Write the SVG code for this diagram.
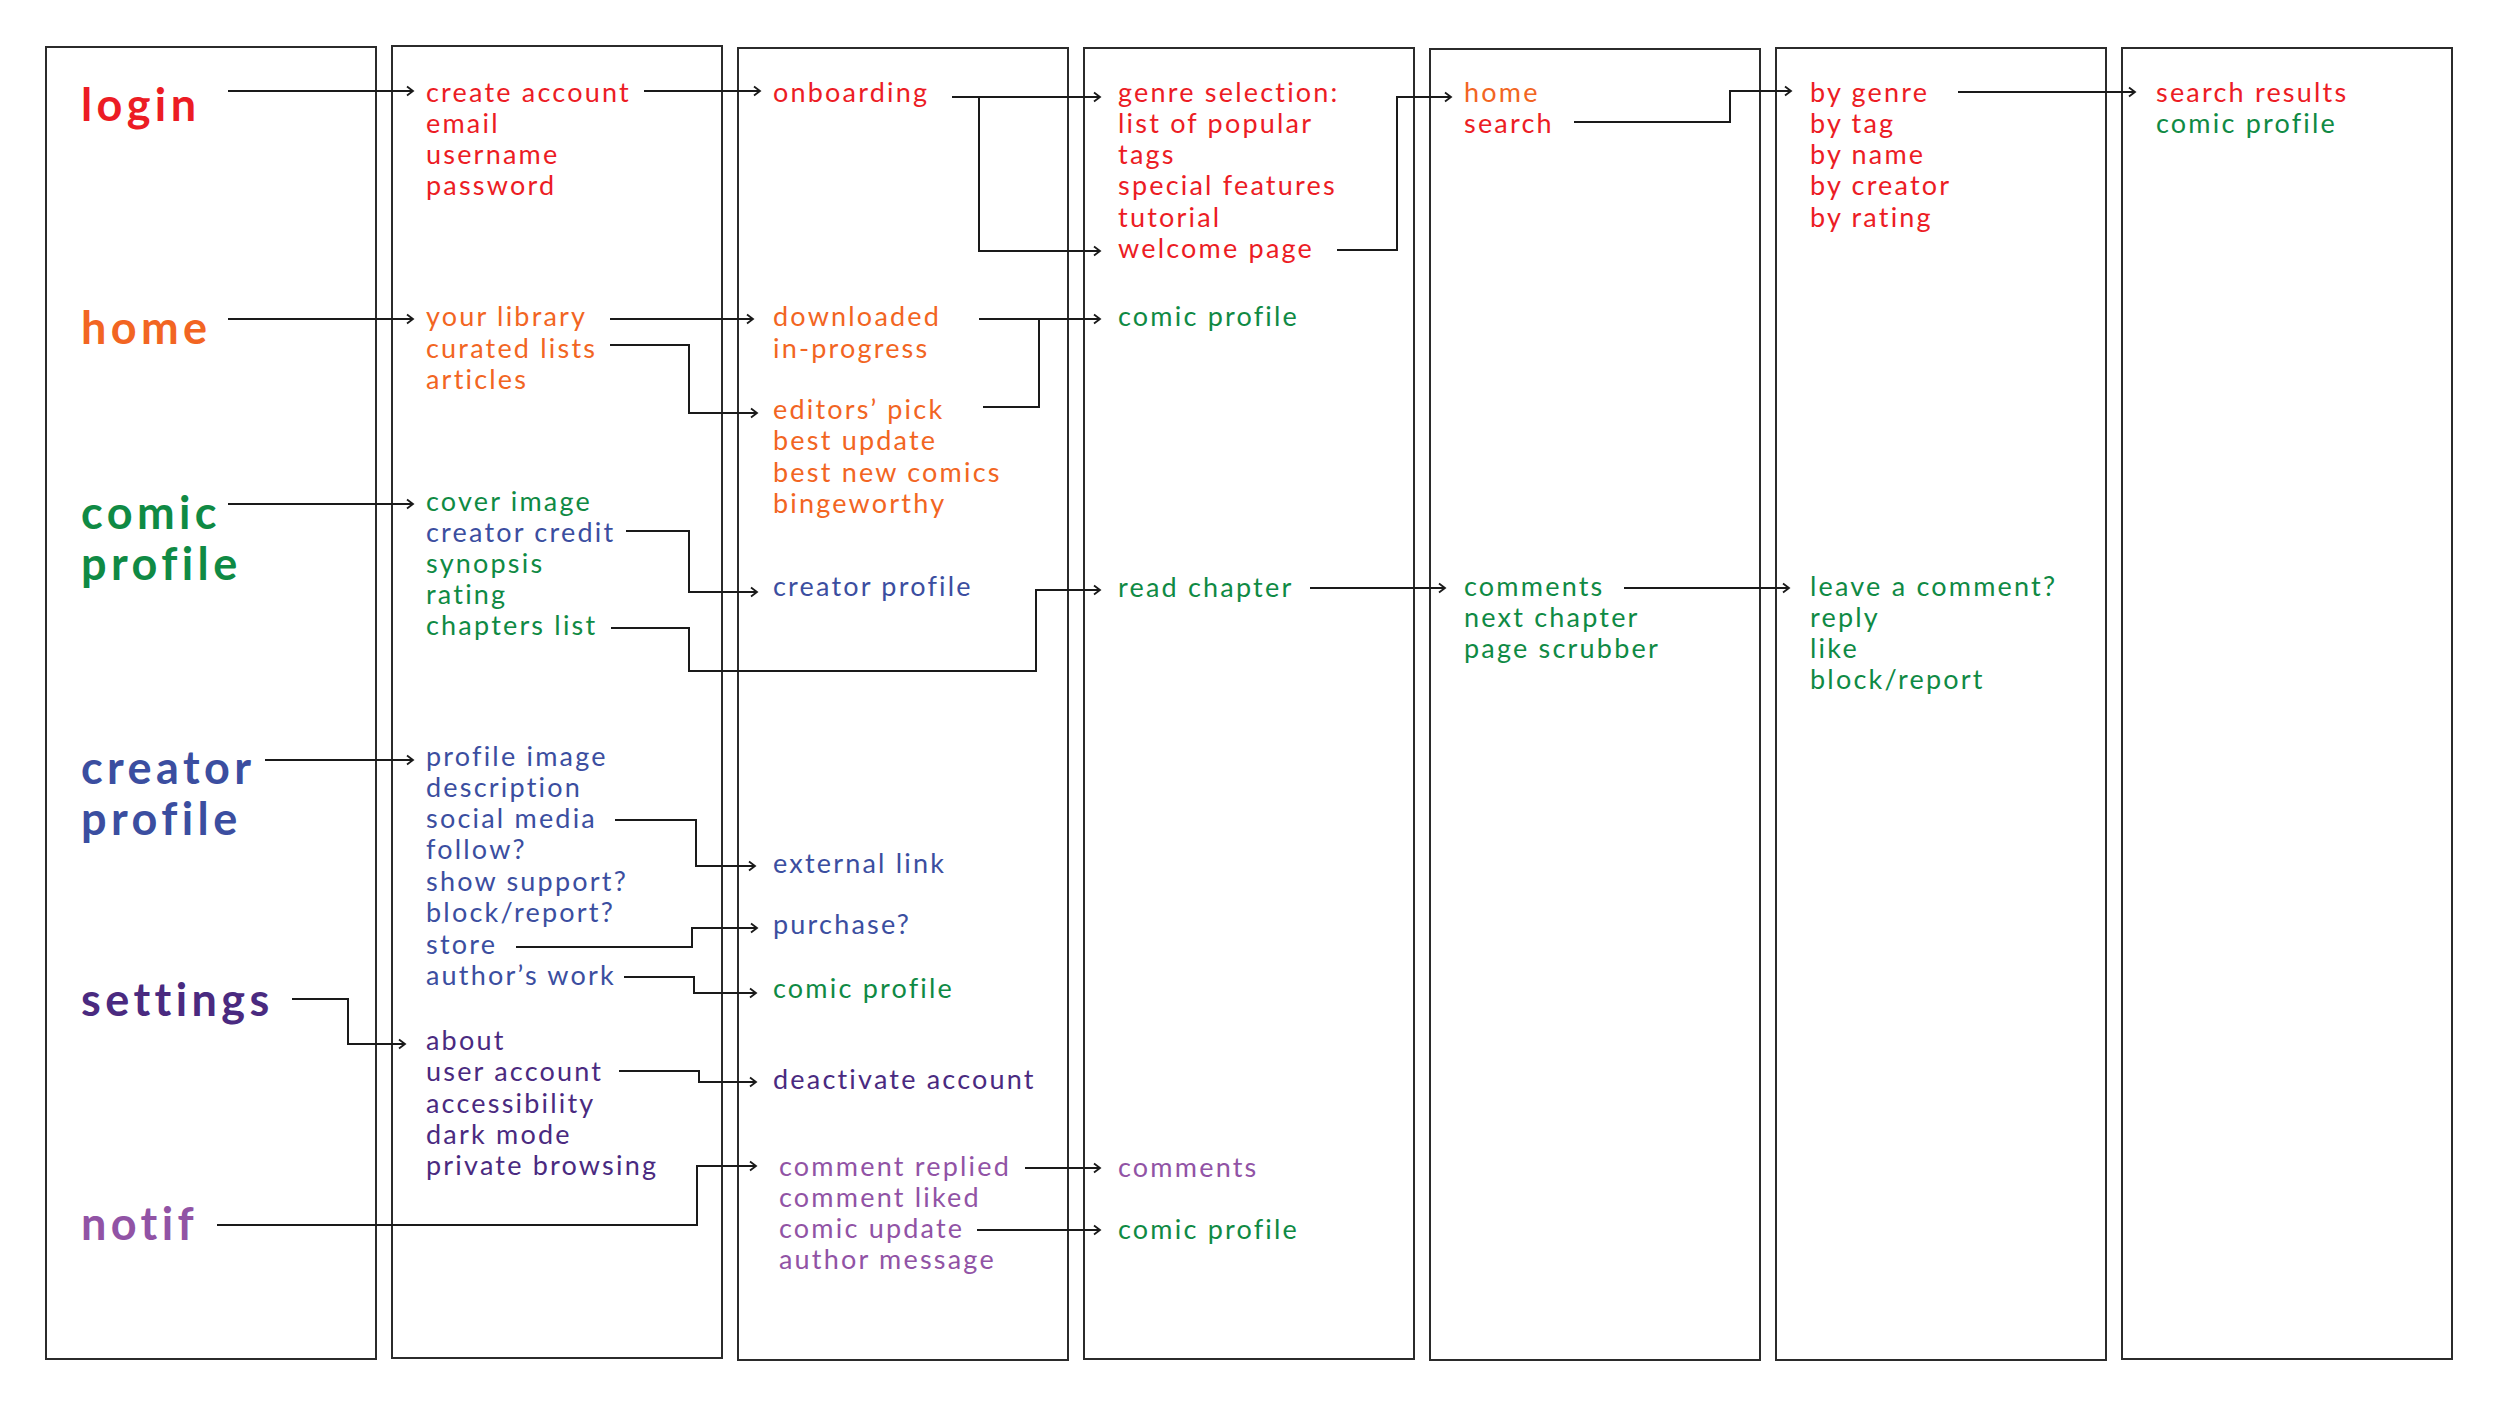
<svg xmlns="http://www.w3.org/2000/svg" width="2500" height="1406" viewBox="0 0 2500 1406">
<style>
.col{fill:none;stroke:#2b2b2b;stroke-width:2}
.t{font-family:Lato,"Open Sans","Liberation Sans",sans-serif;font-size:27px;font-weight:400;letter-spacing:2.2px}
.h{font-family:Lato,"Open Sans","Liberation Sans",sans-serif;font-size:45px;font-weight:700;letter-spacing:4.4px}
.red{fill:#ec1c24}.org{fill:#f26522}.grn{fill:#0f8a44}.blu{fill:#3b4ea0}.dpu{fill:#4a2a80}.lpu{fill:#9153a5}
.c path{fill:none;stroke:#1a1a1a;stroke-width:2;marker-end:url(#ah)}
</style>
<defs>
<marker id="ah" markerUnits="userSpaceOnUse" markerWidth="10" markerHeight="12" refX="7" refY="6" orient="auto" viewBox="0 0 10 12">
<path d="M1,1.5 L7,6 L1,10.5" fill="none" stroke="#1a1a1a" stroke-width="1.8"/>
</marker>
</defs>
<rect width="2500" height="1406" fill="#fff"/>
<g id="columns">
<rect class="col" x="46" y="47" width="330" height="1312"/>
<rect class="col" x="392" y="46" width="330" height="1312"/>
<rect class="col" x="738" y="48" width="330" height="1312"/>
<rect class="col" x="1084" y="48" width="330" height="1311"/>
<rect class="col" x="1430" y="49" width="330" height="1311"/>
<rect class="col" x="1776" y="48" width="330" height="1312"/>
<rect class="col" x="2122" y="48" width="330" height="1311"/>
</g>
<g id="n-login"><text class="h red" x="81" y="121">login</text></g>
<g id="n-home"><text class="h org" x="81" y="344">home</text></g>
<g id="n-comic-profile"><text class="h grn" x="81" y="529">comic</text><text class="h grn" x="81" y="580">profile</text></g>
<g id="n-creator-profile"><text class="h blu" x="81" y="784">creator</text><text class="h blu" x="81" y="835">profile</text></g>
<g id="n-settings"><text class="h dpu" x="81" y="1016">settings</text></g>
<g id="n-notif"><text class="h lpu" x="81" y="1240">notif</text></g>

<g id="n-account" class="t red"><text x="426" y="102">create account</text><text x="426" y="133">email</text><text x="426" y="164">username</text><text x="426" y="195">password</text></g>
<g id="n-home-items" class="t org"><text x="426" y="326">your library</text><text x="426" y="358">curated lists</text><text x="426" y="389">articles</text></g>
<g id="n-comic-items" class="t grn"><text x="426" y="511">cover image</text><text class="blu" x="426" y="542">creator credit</text><text x="426" y="573">synopsis</text><text x="426" y="604">rating</text><text x="426" y="635">chapters list</text></g>
<g id="n-creator-items" class="t blu"><text x="426" y="766">profile image</text><text x="426" y="797">description</text><text x="426" y="828">social media</text><text x="426" y="859">follow?</text><text x="426" y="891">show support?</text><text x="426" y="922">block/report?</text><text x="426" y="954">store</text><text x="426" y="985">author’s work</text></g>
<g id="n-settings-items" class="t dpu"><text x="426" y="1050">about</text><text x="426" y="1081">user account</text><text x="426" y="1113">accessibility</text><text x="426" y="1144">dark mode</text><text x="426" y="1175">private browsing</text></g>

<g id="n-onboarding" class="t red"><text x="773" y="102">onboarding</text></g>
<g id="n-library" class="t org"><text x="773" y="326">downloaded</text><text x="773" y="358">in-progress</text></g>
<g id="n-curated" class="t org"><text x="773" y="419">editors’ pick</text><text x="773" y="450">best update</text><text x="773" y="482">best new comics</text><text x="773" y="513">bingeworthy</text></g>
<g id="n-creator-link" class="t blu"><text x="773" y="596">creator profile</text></g>
<g id="n-external" class="t blu"><text x="773" y="873">external link</text></g>
<g id="n-purchase" class="t blu"><text x="773" y="934">purchase?</text></g>
<g id="n-comic-link1" class="t grn"><text x="773" y="998">comic profile</text></g>
<g id="n-deactivate" class="t dpu"><text x="773" y="1089">deactivate account</text></g>
<g id="n-notif-items" class="t lpu"><text x="779" y="1176">comment replied</text><text x="779" y="1207">comment liked</text><text x="779" y="1238">comic update</text><text x="779" y="1269">author message</text></g>

<g id="n-genre" class="t red"><text x="1118" y="102">genre selection:</text><text x="1118" y="133">list of popular</text><text x="1118" y="164">tags</text><text x="1118" y="195">special features</text><text x="1118" y="227">tutorial</text><text x="1118" y="258">welcome page</text></g>
<g id="n-comic-link2" class="t grn"><text x="1118" y="326">comic profile</text></g>
<g id="n-read" class="t grn"><text x="1118" y="597">read chapter</text></g>
<g id="n-comments-link" class="t lpu"><text x="1118" y="1177">comments</text></g>
<g id="n-comic-link3" class="t grn"><text x="1118" y="1239">comic profile</text></g>

<g id="n-home-search" class="t"><text class="org" x="1464" y="102">home</text><text class="red" x="1464" y="133">search</text></g>
<g id="n-reader" class="t grn"><text x="1464" y="596">comments</text><text x="1464" y="627">next chapter</text><text x="1464" y="658">page scrubber</text></g>

<g id="n-search-by" class="t red"><text x="1810" y="102">by genre</text><text x="1810" y="133">by tag</text><text x="1810" y="164">by name</text><text x="1810" y="195">by creator</text><text x="1810" y="227">by rating</text></g>
<g id="n-comment-actions" class="t grn"><text x="1810" y="596">leave a comment?</text><text x="1810" y="627">reply</text><text x="1810" y="658">like</text><text x="1810" y="689">block/report</text></g>

<g id="n-results" class="t"><text class="red" x="2156" y="102">search results</text><text class="grn" x="2156" y="133">comic profile</text></g>

<g id="connectors" class="c">
<path d="M228,91 H413"/>
<path d="M644,91 H760"/>
<path d="M952,97 H1100"/>
<path d="M979,97 V251 H1100"/>
<path d="M1337,250 H1397 V97 H1451"/>
<path d="M1574,122 H1730 V91 H1791"/>
<path d="M1958,92 H2135"/>
<path d="M228,319 H413"/>
<path d="M610,319 H753"/>
<path d="M610,345 H689 V413 H757"/>
<path d="M979,319 H1100"/>
<path d="M983,407 H1039 V319" style="marker-end:none"/>
<path d="M228,504 H413"/>
<path d="M626,531 H689 V592 H757"/>
<path d="M611,628 H689 V671 H1036 V590 H1100"/>
<path d="M1310,588 H1445"/>
<path d="M1624,588 H1789"/>
<path d="M265,760 H413"/>
<path d="M615,820 H696 V866 H755"/>
<path d="M516,947 H692 V928 H757"/>
<path d="M624,977 H694 V993 H756"/>
<path d="M292,999 H348 V1044 H405"/>
<path d="M619,1071 H699 V1082 H756"/>
<path d="M217,1225 H697 V1166 H756"/>
<path d="M1025,1168 H1100"/>
<path d="M977,1230 H1100"/>
</g>
</svg>
